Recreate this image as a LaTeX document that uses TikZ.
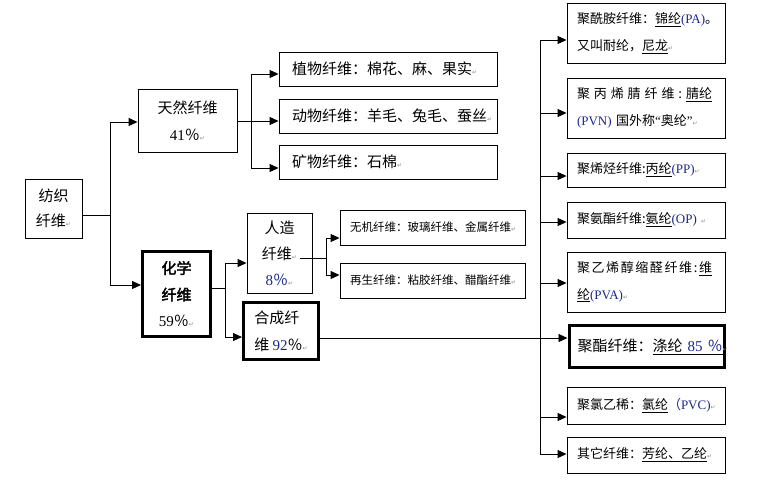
\documentclass[tikz,border=0pt]{standalone}
\usepackage{fontspec}
\setmainfont{Noto Sans CJK SC}[AutoFakeBold=2.5]
\newfontfamily\latf{Liberation Serif}
\newfontfamily\djv{DejaVu Sans}
\usetikzlibrary{arrows.meta,calc}
\definecolor{navy}{RGB}{25,40,140}
\newcommand\ret{{\djv\color{black!45}\fontsize{6}{6}\selectfont ↵}}
\newcommand\lt[1]{{\latf #1}}
\newcommand\nv[1]{{\latf\color{navy}#1}}
\newcommand\uln[1]{\underline{#1}}
\begin{document}
\begin{tikzpicture}[x=1pt,y=-1pt,
  box/.style={draw, line width=0.9pt, inner sep=0pt, font=\fontsize{15}{27}\selectfont},
  thickbox/.style={box, line width=3pt},
  rbox/.style={box, minimum width=158pt, text width=138pt, align=left, font=\fontsize{13}{27}\selectfont},
  mbox/.style={box, minimum width=185pt, minimum height=35pt, text width=165pt, align=left, font=\fontsize{11.5}{14}\selectfont},
  lbox/.style={box, minimum width=218pt, minimum height=34pt, text width=192pt, align=left},
  con/.style={line width=0.9pt},
  arr/.style={con, -{Triangle[length=9pt,width=8pt]}}]
\useasboundingbox[fill=white] (0,0) rectangle (775,488);

% left part
\node[box, minimum width=57pt, minimum height=59pt, align=center, font=\fontsize{15}{25}\selectfont] (fz) at (53.5,208.5) {纺织\\纤维\ret};
\node[box, minimum width=99pt, minimum height=63pt, align=center] (tr) at (187.5,120.5) {天然纤维\\\lt{41}％\ret};
\node[thickbox, minimum width=68pt, minimum height=85pt, align=center, font=\fontsize{15}{26.5}\selectfont] (hx) at (176.5,294) {\textbf{化学}\\\textbf{纤维}\\\lt{59}％\ret};

\node[lbox] (ph) at (388,69) {植物纤维：棉花、麻、果实\ret};
\node[lbox] (an) at (388,116) {动物纤维：羊毛、兔毛、蚕丝\ret};
\node[lbox] (mi) at (388,162) {矿物纤维：石棉\ret};

\node[box, minimum width=65pt, minimum height=80pt, align=center, font=\fontsize{15}{26}\selectfont] (rz) at (279.5,253) {人造\\纤维\ret\\\nv{8}{\color{navy}％}\ret};
\node[thickbox, minimum width=75pt, minimum height=57pt, align=left, font=\fontsize{15}{27}\selectfont] (hc) at (281,331) {合成纤\\维 \nv{92}％\ret};

\node[mbox] (wj) at (432.5,227.5) {无机纤维：玻璃纤维、金属纤维\ret};
\node[mbox] (zs) at (432.5,280.5) {再生纤维：粘胶纤维、醋酯纤维\ret};

% right column
\node[rbox, minimum height=60pt] (r1) at (646,33) {聚酰胺纤维：\uln{锦纶}\nv{(PA)}。\\又叫耐纶，\uln{尼龙}\ret};
\node[rbox, minimum height=60pt] (r2) at (646,108) {\makebox[135pt][l]{聚\hfill 丙\hfill 烯\hfill 腈\hfill 纤\hfill 维\hfill :\hfill \uln{腈\hfill 纶}}\\\nv{(PVN)} 国外称\lt{“}奥纶\lt{”}\ret};
\node[rbox, minimum height=34pt] (r3) at (646,170) {聚烯烃纤维:\uln{丙纶}\nv{(PP)}\ret};
\node[rbox, minimum height=36pt] (r4) at (646,220) {聚氨酯纤维:\uln{氨纶}\nv{(OP)} \ret};
\node[rbox, minimum height=60pt] (r5) at (646,282) {\makebox[135pt][l]{聚\hfill 乙\hfill 烯\hfill 醇\hfill 缩\hfill 醛\hfill 纤\hfill 维\hfill :\hfill \uln{维}}\\\uln{纶}\nv{(PVA)}\ret};
\node[rbox, thickbox, minimum width=155pt, minimum height=42pt] (r6) at (646.5,346.5) {聚酯纤维：\uln{涤纶 \nv{85 }{\color{navy}％}}\ret};
\node[rbox, minimum height=37pt] (r7) at (646,405.5) {聚氯乙稀：\uln{氯纶}{\color{navy}（}\nv{PVC)}\ret};
\node[rbox, minimum height=36pt] (r8) at (646,455) {其它纤维：\uln{芳纶、乙纶}\ret};

% junctions
\coordinate (j1) at (110,215);
\coordinate (j2) at (251,121);
\coordinate (j4) at (225,288);
\coordinate (j3) at (326,258);
\coordinate (j5) at (540,338);
\coordinate (rzo) at ($(rz.center)+(20,5)$);

% connectors
\draw[con] (fz.east |- j1) -- (j1);
\draw[arr] (j1) |- ($(tr.west)+(0,1.5)$);
\draw[arr] (j1) |- ($(hx.west)+(0,-9)$);

\draw[con] (tr.east |- j2) -- (j2);
\draw[arr] (j2) |- ($(ph.west)+(0,5)$);
\draw[arr] (j2) |- ($(an.west)+(0,5)$);
\draw[arr] (j2) |- ($(mi.west)+(0,6)$);

\draw[con] (hx.east |- j4) -- (j4);
\draw[arr] (j4) |- ($(rz.west)+(0,10)$);
\draw[arr] (j4) |- ($(hc.west)+(0,6)$);

\draw[con] (rzo) -- (j3);
\draw[arr] (j3) |- ($(wj.west)+(0,10.5)$);
\draw[arr] (j3) |- ($(zs.west)+(0,-5.5)$);

\draw[con] (hc.east |- j5) -- (j5);
\draw[arr] (j5) |- ($(r1.west)+(0,7)$);
\draw[arr] (j5) |- ($(r2.west)+(0,5)$);
\draw[arr] (j5) |- ($(r3.west)+(0,6)$);
\draw[arr] (j5) |- ($(r4.west)+(0,2)$);
\draw[arr] (j5) |- ($(r5.west)+(0,1)$);
\draw[arr] (j5) |- ($(r6.west)+(0,-8.5)$);
\draw[arr] (j5) |- ($(r7.west)+(0,11.5)$);
\draw[arr] (j5) |- ($(r8.west)+(0,-1)$);
\end{tikzpicture}
\end{document}
